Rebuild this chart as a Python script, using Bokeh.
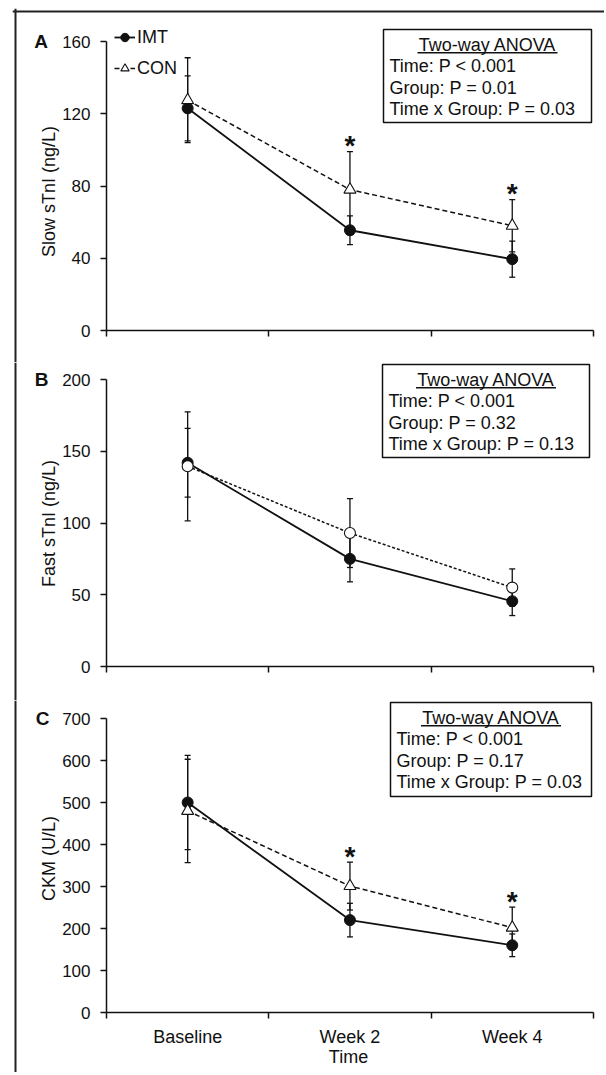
import math
from bokeh.plotting import figure
from bokeh.layouts import column
from bokeh.models import (ColumnDataSource, Range1d, FixedTicker, Whisker, TeeHead,
                          BoxAnnotation, Label, Legend, LegendItem, Span)
from bokeh.embed import file_html
from bokeh.resources import INLINE
from bokeh.core.properties import value

FONT = "Liberation Sans"
INK = "#111111"

# ---------------- data ----------------
timepoints = ["Baseline", "Week 2", "Week 4"]
time_x = [0.5, 1.5, 2.5]
boundary_ticks = [0, 1, 2, 3]

# Panel A: Slow sTnI (ng/L)
slow_imt = [123, 55.5, 39.5]
slow_imt_se = [18, 8, 10]
slow_con = [127.5, 78, 58]
slow_con_se = [23.5, 21, 14.5]
slow_sig = [False, True, True]
slow_ticks = [0, 40, 80, 120, 160]
slow_stats = ["Time: P < 0.001", "Group: P = 0.01", "Time x Group: P = 0.03"]

# Panel B: Fast sTnI (ng/L)
fast_imt = [142, 75, 45.5]
fast_imt_se = [24, 16, 10]
fast_con = [139.5, 93, 55]
fast_con_se = [38, 24, 13]
fast_sig = [False, False, False]
fast_ticks = [0, 50, 100, 150, 200]
fast_stats = ["Time: P < 0.001", "Group: P = 0.32", "Time x Group: P = 0.13"]

# Panel C: CKM (U/L)
ckm_imt = [500, 220, 160]
ckm_imt_se = [112, 40, 27]
ckm_con = [480, 301, 202]
ckm_con_se = [123, 57, 49]
ckm_sig = [False, True, True]
ckm_ticks = [0, 100, 200, 300, 400, 500, 600, 700]
ckm_stats = ["Time: P < 0.001", "Group: P = 0.17", "Time x Group: P = 0.03"]

# ---------------- layout (page pixels) ----------------
ORIGIN_X = 12
FIG_W = 592
AXIS_X = 106        # page x of the y axis (x = 0)
X_SCALE = 162.3     # px per category
FRAME_LINE_X = 15   # outer figure border (left)
FRAME_LINE_Y = 11   # outer figure border (top)


def X(px):
    return (px - AXIS_X) / X_SCALE


def build(geom, ylabel, ticks, imt, imt_se, con, con_se, sig, stats,
          con_marker, con_dash, letter, show_categories, legend, top_border):
    fig_top, fig_h, zero_px, top_px, box, letter_pos, ylabel_pos = geom
    top_val = ticks[-1]
    k = (zero_px - top_px) / top_val

    def Y(py):
        return (zero_px - py) / k

    p = figure(width=FIG_W, height=fig_h,
               x_range=Range1d(X(ORIGIN_X), X(ORIGIN_X + FIG_W)),
               y_range=Range1d(Y(fig_top + fig_h), Y(fig_top)),
               output_backend="svg", toolbar_location=None,
               min_border=0, min_border_left=0, min_border_right=0,
               min_border_top=0, min_border_bottom=0)
    p.outline_line_color = None
    p.xgrid.visible = False
    p.ygrid.visible = False
    p.background_fill_color = "white"
    p.border_fill_color = "white"

    # outer frame of the whole figure
    p.add_layout(Span(location=X(FRAME_LINE_X), dimension="height",
                      line_color="#222222", line_width=2))
    if top_border:
        p.add_layout(Span(location=Y(FRAME_LINE_Y), dimension="width",
                          line_color="#222222", line_width=2))

    # x axis drawn at y = 0: tick marks at category boundaries, labels at centres
    xa = p.xaxis[0]
    if show_categories:
        xa.ticker = FixedTicker(ticks=time_x, minor_ticks=boundary_ticks)
        xa.major_label_overrides = {t: c for t, c in zip(time_x, timepoints)}
    else:
        xa.ticker = FixedTicker(ticks=[], minor_ticks=boundary_ticks)
    xa.fixed_location = 0
    xa.bounds = (0, 3)
    xa.major_tick_out = 0
    xa.major_tick_in = 0
    xa.minor_tick_out = 6
    xa.minor_tick_in = 0
    xa.minor_tick_line_color = INK
    xa.minor_tick_line_width = 1.5
    xa.axis_line_color = INK
    xa.axis_line_width = 1.5
    xa.major_label_standoff = 8
    xa.major_label_text_font = FONT
    xa.major_label_text_font_size = "18px"
    xa.major_label_text_color = INK

    ya = p.yaxis[0]
    ya.ticker = FixedTicker(ticks=ticks)
    ya.fixed_location = 0
    ya.bounds = (0, top_val)
    ya.major_tick_out = 6
    ya.major_tick_in = 0
    ya.minor_tick_line_color = None
    ya.major_tick_line_color = INK
    ya.major_tick_line_width = 1.5
    ya.axis_line_color = INK
    ya.axis_line_width = 1.5
    ya.major_label_standoff = 10
    ya.major_label_text_font = FONT
    ya.major_label_text_font_size = "17px"
    ya.major_label_text_color = INK

    # y axis title
    yx, yy = ylabel_pos
    p.add_layout(Label(x=X(yx), y=Y(yy), text=ylabel, angle=math.pi / 2,
                       text_font=FONT, text_font_size="18px", text_color=INK,
                       text_align="center", text_baseline="middle"))
    if show_categories:
        p.add_layout(Label(x=X(348), y=Y(1056), text="Time",
                           text_font=FONT, text_font_size="18px", text_color=INK,
                           text_align="center", text_baseline="middle"))

    src_imt = ColumnDataSource(dict(x=time_x, y=imt,
                                    lo=[m - s for m, s in zip(imt, imt_se)],
                                    hi=[m + s for m, s in zip(imt, imt_se)]))
    src_con = ColumnDataSource(dict(x=time_x, y=con,
                                    lo=[m - s for m, s in zip(con, con_se)],
                                    hi=[m + s for m, s in zip(con, con_se)]))

    for src in (src_imt, src_con):
        w = Whisker(source=src, base="x", upper="hi", lower="lo",
                    line_color=INK, line_width=1.3,
                    upper_head=TeeHead(size=6, line_color=INK, line_width=1.3),
                    lower_head=TeeHead(size=6, line_color=INK, line_width=1.3))
        p.add_layout(w)

    l_imt = p.line("x", "y", source=src_imt, line_color=INK, line_width=1.8)
    l_con = p.line("x", "y", source=src_con, line_color=INK, line_width=1.5,
                   line_dash=con_dash)
    s_imt = p.scatter("x", "y", source=src_imt, marker="circle", size=11,
                      fill_color=INK, line_color=INK)
    s_con = p.scatter("x", "y", source=src_con, marker=con_marker,
                      size=12 if con_marker == "triangle" else 11,
                      fill_color="white", line_color=INK, line_width=1.1)

    # significance asterisks above CON error bars
    star_x = [x for x, s in zip(time_x, sig) if s]
    star_y = [m + e for m, e, s in zip(con, con_se, sig) if s]
    if star_x:
        p.text(x=star_x, y=star_y, text=["*"] * len(star_x),
               text_font=value(FONT), text_font_size="28px", text_font_style="bold",
               text_color=INK, text_align="center", text_baseline="alphabetic",
               y_offset=-6)

    # ANOVA box
    bl, bt, br, bb = box
    p.add_layout(BoxAnnotation(left=X(bl), right=X(br), top=Y(bt), bottom=Y(bb),
                               fill_color="white", fill_alpha=1.0,
                               line_color=INK, line_width=1.5, line_alpha=1.0))
    cx = (bl + br) / 2
    p.add_layout(Label(x=X(cx), y=Y(bt + 15.5), text="Two-way ANOVA",
                       text_font=FONT, text_font_size="18px", text_color=INK,
                       text_align="center", text_baseline="middle"))
    p.add_layout(BoxAnnotation(left=X(cx - 70), right=X(cx + 70),
                               top=Y(bt + 22.6), bottom=Y(bt + 23.9),
                               fill_color=INK, fill_alpha=1.0, line_color=None))
    for i, s in enumerate(stats):
        p.add_layout(Label(x=X(bl + 6), y=Y(bt + 36.5 + 21.6 * i), text=s,
                           text_font=FONT, text_font_size="18px", text_color=INK,
                           text_align="left", text_baseline="middle"))

    # panel letter
    lx, ly = letter_pos
    p.add_layout(Label(x=X(lx), y=Y(ly), text=letter, text_font=FONT,
                       text_font_size="19px", text_font_style="bold", text_color=INK,
                       text_align="center", text_baseline="middle"))

    if legend:
        lg = Legend(items=[LegendItem(label="IMT", renderers=[l_imt, s_imt]),
                           LegendItem(label="CON", renderers=[l_con, s_con])],
                    location=(AXIS_X + 1 - ORIGIN_X, fig_h - 80), margin=0, padding=7,
                    glyph_width=21, glyph_height=26, label_height=24,
                    spacing=5, label_standoff=2,
                    label_text_font=FONT, label_text_font_size="18px",
                    label_text_color=INK,
                    background_fill_alpha=0, border_line_alpha=0)
        p.add_layout(lg)
    return p


# geometry: fig_top, fig_h, zero_px, top_tick_px, box(l,t,r,b), letter(x,y), ylabel(x,y)
geom_a = (8, 354, 330, 41, (383, 29, 591, 122), (40.5, 41), (48, 191))
geom_b = (362, 338, 666, 379, (382, 364, 589, 457), (41, 379), (48, 523))
geom_c = (700, 372, 1012, 718, (390, 702, 591, 796), (42, 718), (48, 858))

pa = build(geom_a, "Slow sTnI (ng/L)", slow_ticks, slow_imt, slow_imt_se, slow_con,
           slow_con_se, slow_sig, slow_stats, "triangle", "5 3", "A", False, True, True)
pb = build(geom_b, "Fast sTnI (ng/L)", fast_ticks, fast_imt, fast_imt_se, fast_con,
           fast_con_se, fast_sig, fast_stats, "circle", "3 2", "B", False, False, False)
pc = build(geom_c, "CKM (U/L)", ckm_ticks, ckm_imt, ckm_imt_se, ckm_con,
           ckm_con_se, ckm_sig, ckm_stats, "triangle", "5 3", "C", True, False, False)

layout = column(pa, pb, pc, spacing=0, margin=(8, 0, 0, 12))

open("out.html", "w").write(file_html(layout, INLINE))
